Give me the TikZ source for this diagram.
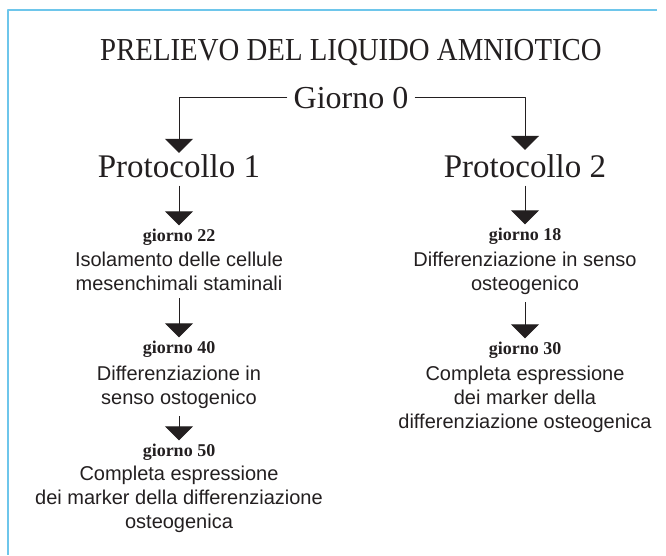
\documentclass[tikz,border=0pt]{standalone}
\usepackage{fontspec}
\setmainfont{Liberation Serif}
\setsansfont{Liberation Sans}
\newfontfamily\amnarrow[FakeStretch=0.9]{Liberation Serif}
\usepackage{tikz}
\usetikzlibrary{arrows.meta}
\definecolor{amframe}{RGB}{110,198,235}
\definecolor{amink}{RGB}{35,31,32}
\tikzset{
  amtitle/.style={font=\amnarrow\fontsize{32}{38}\selectfont, text=amink, inner sep=0pt, anchor=base},
  amzero/.style={font=\fontsize{32}{38}\selectfont, text=amink, inner xsep=6pt, inner ysep=0pt, anchor=base},
  amproto/.style={font=\fontsize{33}{40}\selectfont, text=amink, inner sep=0pt, anchor=base},
  amday/.style={font=\bfseries\fontsize{18}{21}\selectfont, text=amink, inner sep=0pt, anchor=base},
  % base of a block = baseline of its last line
  amdesc/.style={font=\sffamily\fontsize{20}{24}\selectfont, text=amink, align=center, inner sep=0pt, anchor=base},
  link/.style={draw=amink, line width=0.9pt},
  flow/.style={link, -{Triangle[width=28pt,length=14pt]}, shorten <=8pt, shorten >=3pt},
  every picture/.append style={line join=round}
}
\begin{document}
\begin{tikzpicture}[x=1pt, y=-1pt]
  \useasboundingbox (0,0) rectangle (666,555);
  % frame
  \draw[amframe, line width=1.5pt] (657,10) -- (8,10) -- (8,555);
  \node[amtitle] (title) at (351,60) {PRELIEVO DEL LIQUIDO AMNIOTICO};
  \node[amzero] (g0) at (351,108) {Giorno 0};
  \node[amproto] (p1) at (179,177) {Protocollo 1};
  \node[amproto] (p2) at (525,177) {Protocollo 2};
  \draw[link, -{Triangle[width=28pt,length=14pt]}, shorten >=1pt] (g0.west) -| (p1.north);
  \draw[link, -{Triangle[width=28pt,length=14pt]}, shorten >=4pt] (g0.east) -| (p2.north);
  % protocollo 1
  \node[amday] (d22) at (179,241) {giorno 22};
  \node[amdesc] (i22) at (179,290) {Isolamento delle cellule\\mesenchimali staminali};
  \node[amday] (d40) at (179,353) {giorno 40};
  \node[amdesc] (i40) at (179,404) {Differenziazione in\\senso ostogenico};
  \node[amday] (d50) at (179,456) {giorno 50};
  \node[amdesc] (i50) at (179,528) {Completa espressione\\dei marker della differenziazione\\osteogenica};
  \draw[flow] (p1.south) -- (d22.north);
  \draw[flow] (i22.south) -- (d40.north);
  \draw[flow] (i40.south) -- (d50.north);
  % protocollo 2
  \node[amday] (d18) at (525,240) {giorno 18};
  \node[amdesc] (i18) at (525,290) {Differenziazione in senso\\osteogenico};
  \node[amday] (d30) at (525,354) {giorno 30};
  \node[amdesc] (i30) at (525,428) {Completa espressione\\dei marker della\\differenziazione osteogenica};
  \draw[flow] (p2.south) -- (d18.north);
  \draw[flow] (i18.south) -- (d30.north);
\end{tikzpicture}
\end{document}
